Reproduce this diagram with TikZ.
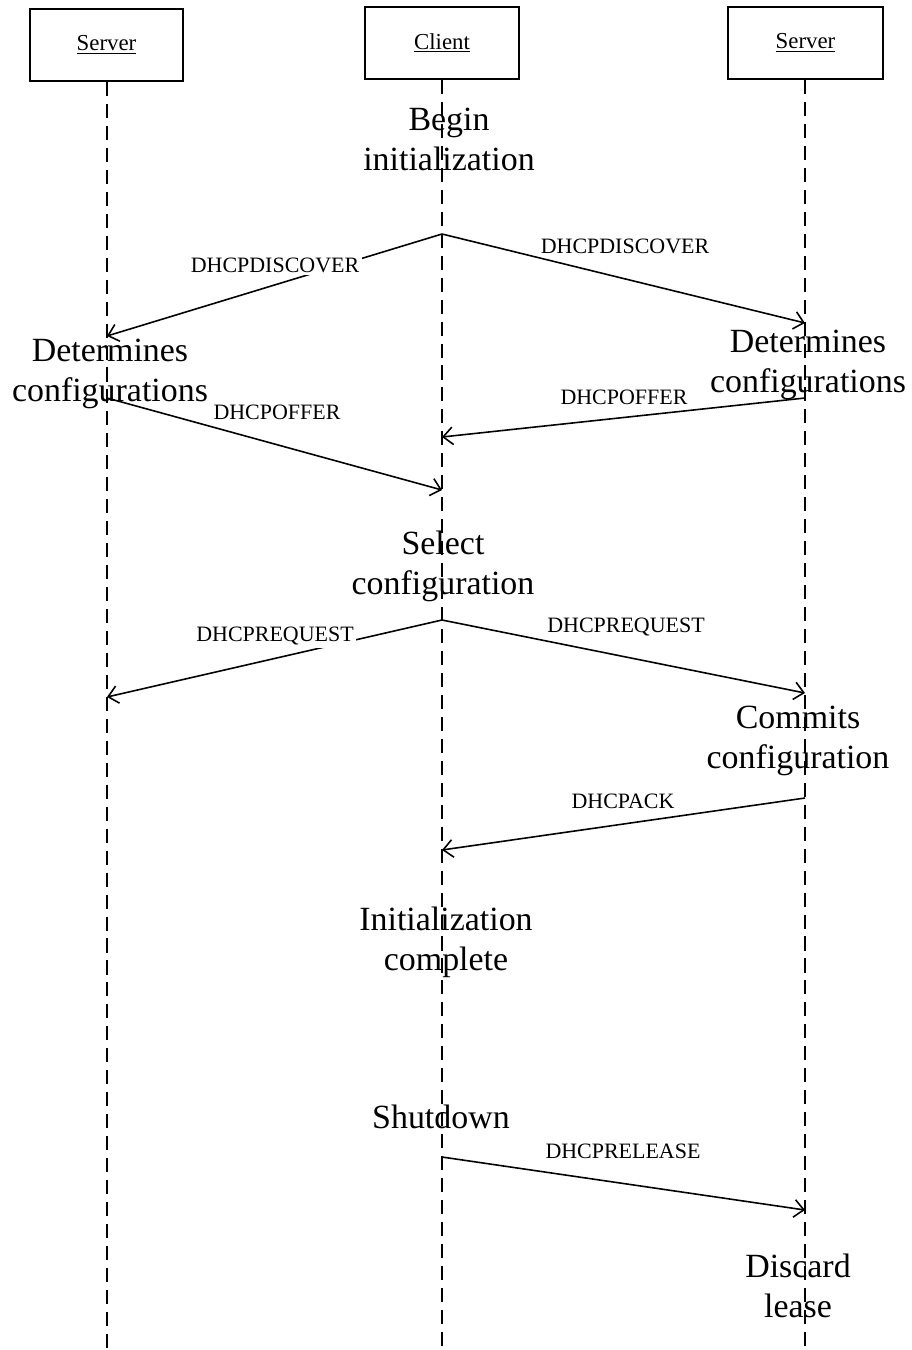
\documentclass[tikz,border=0pt]{standalone}
\usepackage{fontspec}
\setmainfont{Liberation Serif}
\usetikzlibrary{arrows.meta}
\newcommand{\actfont}{\fontsize{19.3}{22.8}\selectfont}
\newcommand{\msgfont}{\fontsize{12.5}{14}\selectfont}
\tikzset{
  obj/.style={draw, line width=1.1pt, minimum height=1.44cm, font=\fontsize{13}{15}\selectfont},
  life/.style={dash pattern=on 8pt off 4.5pt, line width=0.8pt},
  msg/.style={-{Straight Barb[length=5.5pt,width=10pt]}, line width=0.9pt},
  lbl/.style={fill=white, inner sep=1.5pt, font=\msgfont},
  act/.style={align=center, font=\actfont, inner sep=0pt}
}

\begin{document}
\begin{tikzpicture}[x=0.02cm, y=-0.02cm]
  \useasboundingbox (0,0) rectangle (912,1350);
  % objects
  \node[obj, minimum width=3.06cm] (srvA) at (106.5,45) {\underline{Server}};
  \node[obj, minimum width=3.08cm] (client) at (442,43) {\underline{Client}};
  \node[obj, minimum width=3.1cm] (srvB) at (805.5,43) {\underline{Server}};
  % lifelines
  \coordinate (endA) at (107,1350);
  \coordinate (endC) at (442,1350);
  \coordinate (endB) at (805,1350);
  \draw[life] (srvA.south -| endA) -- (endA);
  \draw[life] (client.south -| endC) -- (endC);
  \draw[life] (srvB.south -| endB) -- (endB);
  % states
  \node[act] (begin) at (449,139) {Begin\\initialization};
  \node[act] (detA) at (110,374) {Determines\\configurations};
  \node[act] (detB) at (808,365) {Determines\\configurations};
  \node[act] (select) at (443,566) {Select\\configuration};
  \node[act] (commit) at (798,741) {Commits\\configuration};
  \node[act] (done) at (446,942) {Initialization\\complete};
  \node[act] (shut) at (441,1117) {Shutdown};
  \node[act] (discard) at (798,1286) {Discard\\lease};
  % message ends
  \coordinate (c1) at (442,234);
  \coordinate (a1) at (107,336);
  \coordinate (b1) at (805,323);
  \coordinate (a2) at (107,398);
  \coordinate (c2) at (442,490);
  \coordinate (b2) at (805,398);
  \coordinate (c3) at (442,437);
  \coordinate (c4) at (442,620);
  \coordinate (a4) at (107,697);
  \coordinate (b4) at (805,693);
  \coordinate (b5) at (805,798);
  \coordinate (c5) at (442,850);
  \coordinate (c6) at (442,1157);
  \coordinate (b6) at (805,1210);
  % messages
  \draw[msg] (275,265) node[lbl] {DHCPDISCOVER} (c1) -- (a1);
  \draw[msg] (625,246) node[lbl] {DHCPDISCOVER} (c1) -- (b1);
  \draw[msg] (277,412) node[lbl] {DHCPOFFER} (a2) -- (c2);
  \draw[msg] (624,397) node[lbl] {DHCPOFFER} (b2) -- (c3);
  \draw[msg] (275,636) node[lbl] {DHCPREQUEST} (c4) -- (a4);
  \draw[msg] (626,627) node[lbl] {DHCPREQUEST} (c4) -- (b4);
  \draw[msg] (623,801) node[lbl] {DHCPACK} (b5) -- (c5);
  \draw[msg] (623,1151) node[lbl] {DHCPRELEASE} (c6) -- (b6);
\end{tikzpicture}
\end{document}
